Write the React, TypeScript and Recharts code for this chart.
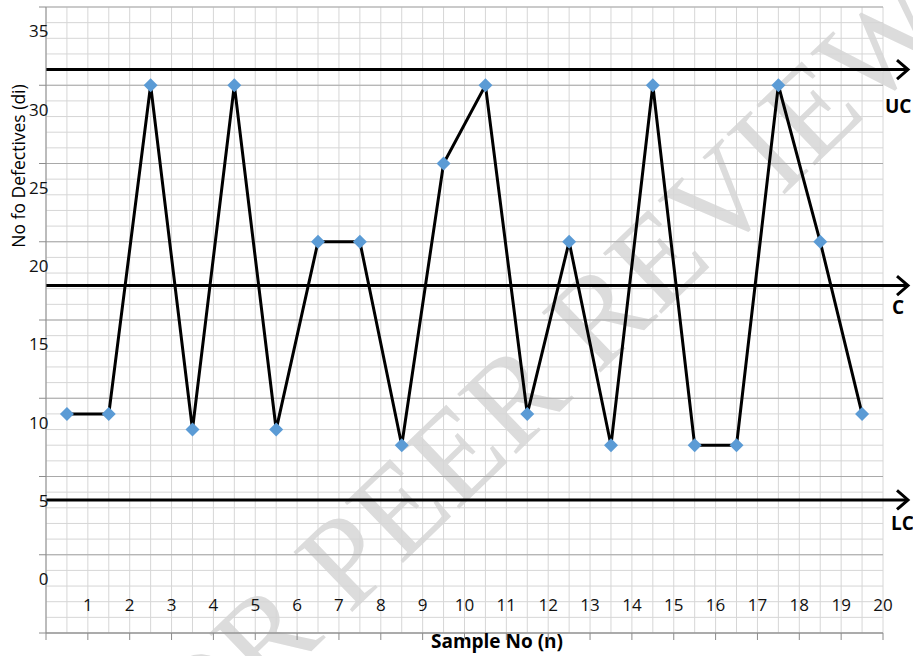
import React from 'react'
import { LineChart, Line, XAxis, YAxis, CartesianGrid, ReferenceLine } from 'recharts'

// sample positions sit half-way between the numbered ticks
const sampleX = [0.5, 1.5, 2.5, 3.5, 4.5, 5.5, 6.5, 7.5, 8.5, 9.5, 10.5, 11.5, 12.5, 13.5, 14.5, 15.5, 16.5, 17.5, 18.5, 19.5]
const defectives = [10.5, 10.5, 31.5, 9.5, 31.5, 9.5, 21.5, 21.5, 8.5, 26.5, 31.5, 10.5, 21.5, 8.5, 31.5, 8.5, 8.5, 31.5, 21.5, 10.5]

const xTicks = [0, 1, 2, 3, 4, 5, 6, 7, 8, 9, 10, 11, 12, 13, 14, 15, 16, 17, 18, 19, 20]
const yLabels = [0, 5, 10, 15, 20, 25, 30, 35]

const controlNames = ['UC', 'C', 'LC']
const controlValues = [32.5, 18.7, 5]

const Y_MIN = -3.5
const Y_MAX = 36.5

// graph-paper grid: a line every unit vertically, every half sample horizontally
const hMinor: number[] = []
for (let v = Y_MIN; v <= Y_MAX + 0.001; v += 1) hMinor.push(v)
const hMajor = hMinor.filter((_, i) => i % 5 === 0)
const vMinor: number[] = []
for (let v = 0; v <= 20.001; v += 0.5) vMinor.push(v)

const data = sampleX.map((x, i) => ({ x, d: defectives[i] }))

const FONT = '"Open Sans", sans-serif'
const labelOffsets: Record<string, { dx: number; dy: number }> = {
  UC: { dx: 2, dy: 43 },
  C: { dx: 9, dy: 28 },
  LC: { dx: 8, dy: 30 },
}

const Diamond = (props: any) => {
  const { cx, cy } = props
  if (cx == null || cy == null) return null
  const r = 7
  return (
    <polygon
      points={`${cx},${cy - r} ${cx + r},${cy} ${cx},${cy + r} ${cx - r},${cy}`}
      fill="#5B9BD5"
    />
  )
}

const YTick = (props: any) => {
  const { x, y, payload } = props
  const v = payload.value
  if (yLabels.includes(v)) {
    return (
      <text x={x + 2.5} y={y + 7} textAnchor="end" fontSize={17} fontFamily={FONT} fill="#111">
        {v}
      </text>
    )
  }
  return <line x1={x - 7} x2={x} y1={y} y2={y} stroke="#8c8c8c" strokeWidth={1} />
}

const XTick = (props: any) => {
  const { x, y, payload } = props
  const v = payload.value
  return (
    <g>
      <line x1={x} x2={x} y1={y} y2={y + 7} stroke="#8c8c8c" strokeWidth={1} />
      {v > 0 && (
        <text x={x} y={y - 22} textAnchor="middle" fontSize={17} fontFamily={FONT} fill="#111">
          {v}
        </text>
      )}
    </g>
  )
}

const controlShape = (name: string) => (props: any) => {
  const { x1, y1, x2 } = props
  const tip = x2 + 25
  const off = labelOffsets[name]
  return (
    <g>
      <line x1={x1} x2={tip} y1={y1} y2={y1} stroke="#000" strokeWidth={3} />
      <polyline
        points={`${tip - 11},${y1 - 9.5} ${tip},${y1} ${tip - 11},${y1 + 9.5}`}
        fill="none"
        stroke="#000"
        strokeWidth={3}
      />
      <text
        x={x2 + off.dx}
        y={y1 + off.dy}
        fontSize={19}
        fontWeight="bold"
        fontFamily={FONT}
        fill="#000"
      >
        {name}
      </text>
    </g>
  )
}

// faint diagonal watermark behind the chart, as in the source page
const Watermark = () => (
  <svg width={913} height={656} style={{ position: 'absolute', left: 0, top: 0 }}>
    <text
      x={551}
      y={420}
      transform="rotate(-44 551 420)"
      textAnchor="middle"
      fontSize={128}
      fontFamily='"Liberation Serif", serif'
      fill="#dcdcdc"
    >
      FOR PEER REVIEW
    </text>
  </svg>
)

export default function App() {
  return (
    <div style={{ position: 'relative', width: 913, height: 656, overflow: 'hidden' }}>
      <style>{`body { margin: 0; background: #fff; }`}</style>
      <Watermark />
      <div style={{ position: 'absolute', left: 0, top: 0 }}>
        <LineChart width={913} height={656} data={data} margin={{ top: 7, right: 30, bottom: 0, left: 0 }}>
          <CartesianGrid
            stroke="#d6d6d6"
            strokeWidth={1}
            horizontalValues={hMinor}
            verticalValues={vMinor}
          />
          <CartesianGrid
            stroke="#a9a9a9"
            strokeWidth={1}
            vertical={false}
            horizontalValues={hMajor}
          />
          <XAxis
            type="number"
            dataKey="x"
            domain={[0, 20]}
            ticks={xTicks}
            interval={0}
            height={23}
            tickSize={0}
            tickMargin={0}
            tickLine={false}
            axisLine={{ stroke: '#8c8c8c', strokeWidth: 1 }}
            tick={<XTick />}
            allowDataOverflow
            label={{
              content: () => (
                <text x={497} y={648} textAnchor="middle" fontSize={19} fontWeight="bold" fontFamily={FONT} fill="#000">
                  Sample No (n)
                </text>
              ),
            }}
          />
          <YAxis
            type="number"
            domain={[Y_MIN, Y_MAX]}
            ticks={[...hMajor, ...yLabels].sort((a, b) => a - b)}
            interval={0}
            width={46}
            tickSize={0}
            tickMargin={0}
            tickLine={false}
            axisLine={{ stroke: '#8c8c8c', strokeWidth: 1 }}
            tick={<YTick />}
            allowDataOverflow
            label={{
              content: () => (
                <text
                  x={18}
                  y={166}
                  transform="rotate(-90 18 166)"
                  textAnchor="middle"
                  dominantBaseline="central"
                  fontSize={17.5}
                  fontFamily={FONT}
                  fill="#000"
                >
                  No fo Defectives (di)
                </text>
              ),
            }}
          />
          {controlNames.map((name, i) => (
            <ReferenceLine key={name} y={controlValues[i]} shape={controlShape(name)} />
          ))}
          <Line
            type="linear"
            dataKey="d"
            stroke="#000"
            strokeWidth={3}
            dot={<Diamond />}
            activeDot={false}
            isAnimationActive={false}
          />
        </LineChart>
      </div>
    </div>
  )
}
